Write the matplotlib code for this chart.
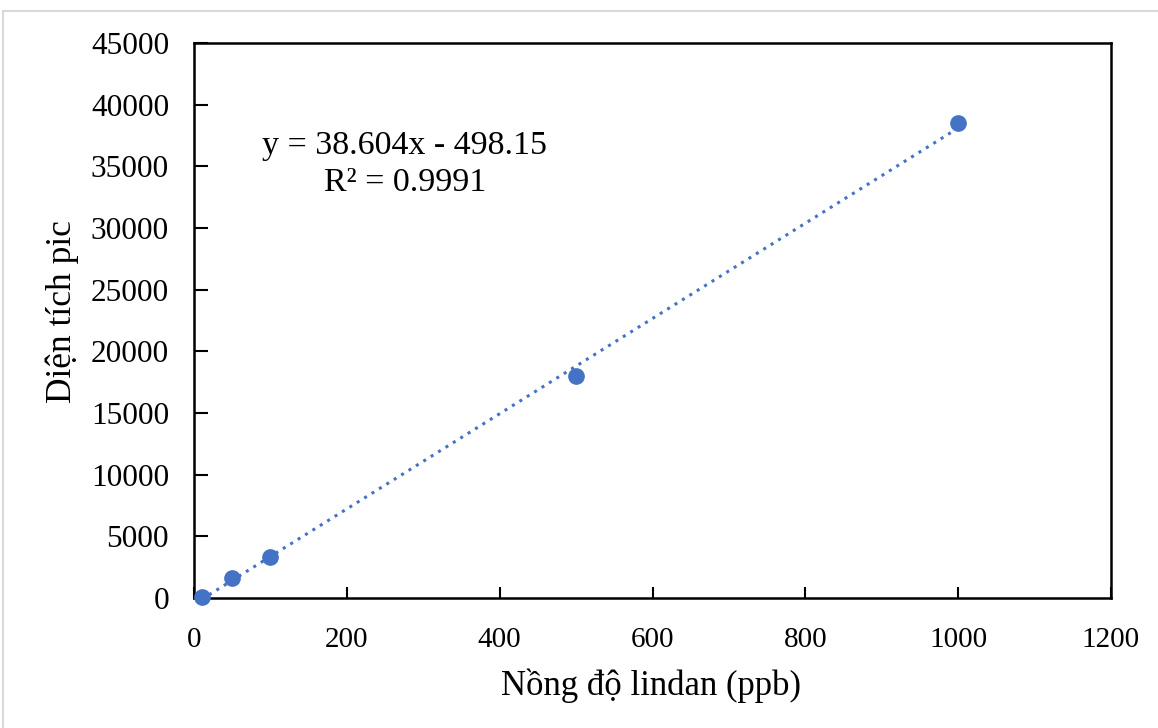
import matplotlib.pyplot as plt
import numpy as np
from matplotlib.patches import Rectangle

plt.rcParams['font.family'] = ['Liberation Serif', 'DejaVu Serif']

# data
conc = [10, 50, 100, 500, 1000]
area = [100, 1650, 3300, 18000, 38500]
slope = 38.604
intercept = -498.15
eq_text = "y = 38.604x - 498.15\nR² = 0.9991"

xticks = [0, 200, 400, 600, 800, 1000, 1200]
yticks = np.arange(0, 45001, 5000)

blue = '#4472C4'

fig = plt.figure(figsize=(11.58, 7.28), dpi=100)
ax = fig.add_axes([194/1158, 1 - 598/728, (1111-194)/1158, (598-43)/728])

# light grey chart border
fig.patches.append(Rectangle((3/1158, -0.1), 1.2, 1 - 11/728 + 0.1,
                             transform=fig.transFigure, fill=False,
                             edgecolor='#d9d9d9', linewidth=1.5))

xfit = np.array([conc[0], conc[-1]])
ax.plot(xfit, slope*xfit + intercept, linestyle=(0, (1, 1.85)), color=blue,
        linewidth=2.2, zorder=2)
ax.plot(conc, area, 'o', color=blue, markersize=11, zorder=3, clip_on=False)

ax.set_xlim(0, 1200)
ax.set_ylim(0, 45000)
ax.set_xticks(xticks)
ax.set_yticks(yticks)
ax.tick_params(direction='in', width=1.5)
ax.tick_params(axis='x', length=8, labelsize=21, pad=21)
ax.tick_params(axis='y', length=10, labelsize=22.5, pad=18)
for s in ax.spines.values():
    s.set_linewidth(1.8)

ax.set_xlabel("Nồng độ lindan (ppb)", fontsize=25, va='center')
ax.set_ylabel("Diện tích pic", fontsize=25.5, va='center')
ax.xaxis.set_label_coords(0.498, -0.159)
ax.yaxis.set_label_coords(-0.144, 0.517)

ax.text(0.230, 0.782, eq_text, transform=ax.transAxes, ha='center', va='center',
        fontsize=24.5, linespacing=1.27)

fig.savefig("out.png", dpi=100)
